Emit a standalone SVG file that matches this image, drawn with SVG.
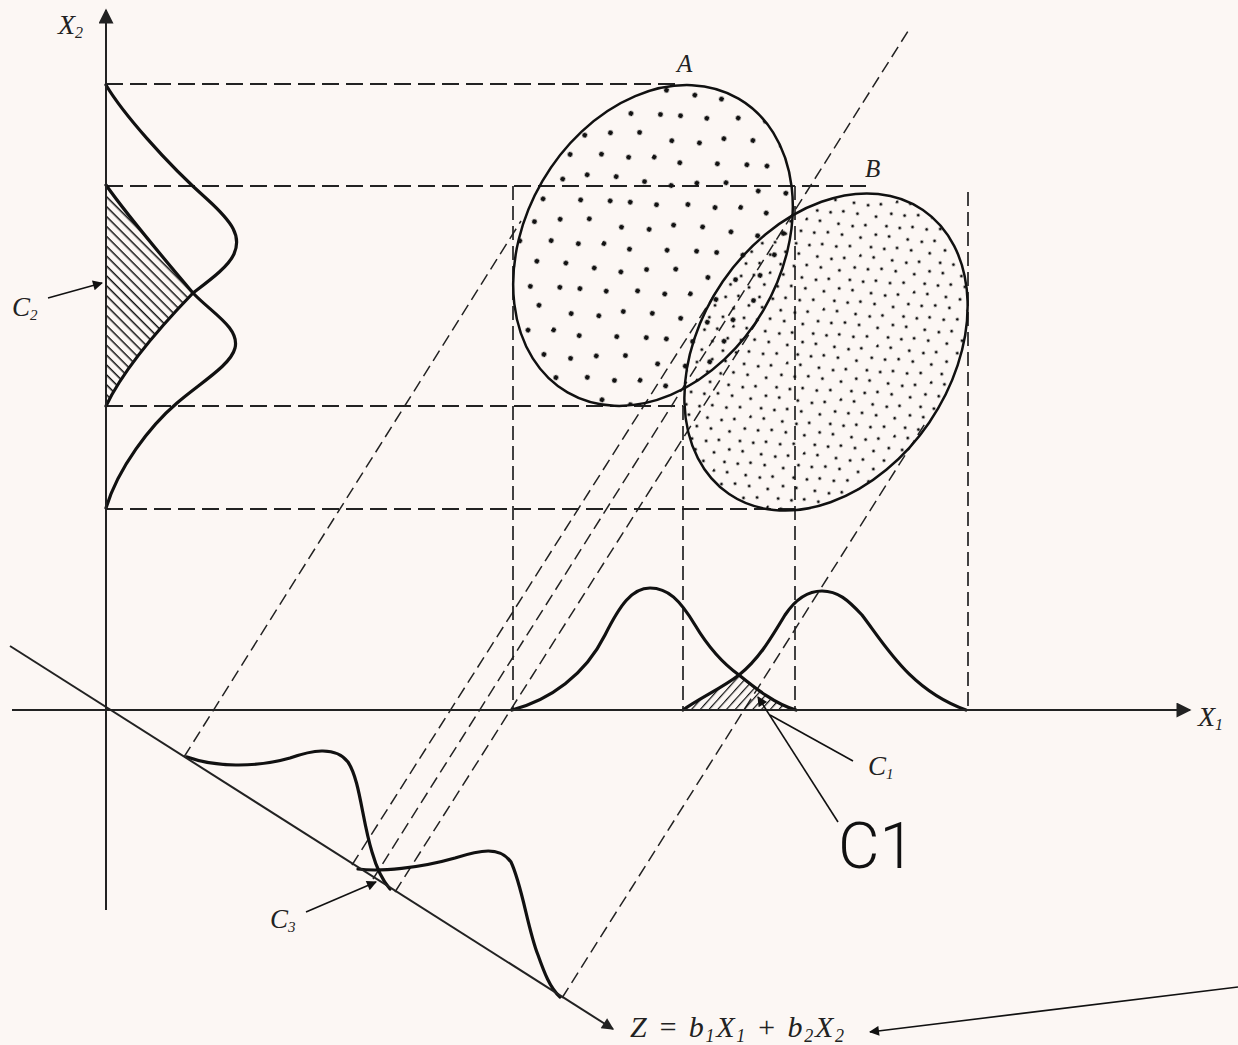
<svg xmlns="http://www.w3.org/2000/svg" width="1238" height="1045" viewBox="0 0 1238 1045">
<style>
.axis{stroke:#222;stroke-width:2;fill:none}
.dh{stroke:#222;stroke-width:2.2;stroke-dasharray:17 7;fill:none}
.dv{stroke:#222;stroke-width:1.7;stroke-dasharray:14 6;fill:none}
.dd{stroke:#222;stroke-width:1.5;stroke-dasharray:12 6;fill:none}
.curve{stroke:#111;stroke-width:3.2;fill:none;stroke-linejoin:round;stroke-linecap:round}
.ell{stroke:#111;stroke-width:2.5}
.lbl{font-family:"Liberation Serif","Times New Roman",serif;font-style:italic;fill:#222}
.ann{stroke:#111;stroke-width:1.6;fill:none}
</style>
<defs>
<marker id="ahBig" viewBox="0 0 10 10" refX="9" refY="5" markerWidth="24" markerHeight="15" markerUnits="userSpaceOnUse" orient="auto"><path d="M0,0 L10,5 L0,10 z" fill="#222"/></marker>
<marker id="ahMid" viewBox="0 0 10 10" refX="9" refY="5" markerWidth="20" markerHeight="12" markerUnits="userSpaceOnUse" orient="auto"><path d="M0,0 L10,5 L0,10 z" fill="#222"/></marker>
<marker id="ahSmall" viewBox="0 0 10 10" refX="9" refY="5" markerWidth="15" markerHeight="10" markerUnits="userSpaceOnUse" orient="auto"><path d="M0,0 L10,5 L0,10 z" fill="#111"/></marker>
<pattern id="dotsA" patternUnits="userSpaceOnUse" width="100" height="100">
<g fill="#111"><circle cx="4" cy="6" r="2.5"/><circle cx="30" cy="2" r="2.5"/><circle cx="53" cy="9" r="2.5"/><circle cx="79" cy="4" r="2.5"/><circle cx="14" cy="31" r="2.5"/><circle cx="38" cy="27" r="2.5"/><circle cx="65" cy="34" r="2.5"/><circle cx="90" cy="28" r="2.5"/><circle cx="6" cy="55" r="2.5"/><circle cx="29" cy="52" r="2.5"/><circle cx="56" cy="60" r="2.5"/><circle cx="81" cy="53" r="2.5"/><circle cx="17" cy="80" r="2.5"/><circle cx="44" cy="77" r="2.5"/><circle cx="70" cy="86" r="2.5"/><circle cx="94" cy="79" r="2.5"/></g>
</pattern>
<pattern id="dotsB" patternUnits="userSpaceOnUse" width="65" height="65">
<g fill="#111"><circle cx="2" cy="3" r="1.5"/><circle cx="15" cy="1" r="1.5"/><circle cx="28" cy="5" r="1.5"/><circle cx="41" cy="2" r="1.5"/><circle cx="54" cy="6" r="1.5"/><circle cx="8" cy="15" r="1.5"/><circle cx="21" cy="13" r="1.5"/><circle cx="34" cy="17" r="1.5"/><circle cx="47" cy="14" r="1.5"/><circle cx="60" cy="18" r="1.5"/><circle cx="3" cy="28" r="1.5"/><circle cx="16" cy="26" r="1.5"/><circle cx="29" cy="30" r="1.5"/><circle cx="42" cy="27" r="1.5"/><circle cx="55" cy="31" r="1.5"/><circle cx="9" cy="41" r="1.5"/><circle cx="22" cy="39" r="1.5"/><circle cx="35" cy="43" r="1.5"/><circle cx="48" cy="40" r="1.5"/><circle cx="61" cy="44" r="1.5"/><circle cx="4" cy="54" r="1.5"/><circle cx="17" cy="52" r="1.5"/><circle cx="30" cy="56" r="1.5"/><circle cx="43" cy="53" r="1.5"/><circle cx="56" cy="57" r="1.5"/></g>
</pattern>
<pattern id="hatchC2" patternUnits="userSpaceOnUse" width="7" height="7" patternTransform="rotate(45)"><rect x="0" y="0" width="7" height="1.5" fill="#111"/></pattern>
<pattern id="hatchC1" patternUnits="userSpaceOnUse" width="6.5" height="6.5" patternTransform="rotate(-48)"><rect x="0" y="0" width="6.5" height="1.2" fill="#111"/></pattern>
</defs>
<rect width="1238" height="1045" fill="#fcf7f4"/>

<g id="guides">
<path class="dh" d="M106,84 H682 M106,186 H866 M106,406 H683 M106,509 H795"/>
<path class="dv" d="M513,186 V710 M683,406 V710 M795,186 V710 M968,192 V710"/>
<path class="dd" d="M184,757 L521,221 M352,865 L718,289 M373,879 L910,28 M395,892 L760,317 M562,998 L926,422"/>
</g>

<g id="ellipse-A">
<ellipse cx="653" cy="245.5" rx="170" ry="128" transform="rotate(-59.8 653 245.5)" fill="url(#dotsA)"/>
</g>
<g id="ellipse-B">
<ellipse cx="826" cy="352" rx="172" ry="125" transform="rotate(-55.7 826 352)" fill="url(#dotsB)"/>
</g>
<g id="ellipse-outlines" fill="none">
<ellipse class="ell" cx="653" cy="245.5" rx="170" ry="128" transform="rotate(-59.8 653 245.5)"/>
<ellipse class="ell" cx="826" cy="352" rx="172" ry="125" transform="rotate(-55.7 826 352)"/>
</g>

<g id="hatches">
<path d="M106,185 C125,212 165,260 193,293 C165,322 125,366 106,406 Z" fill="url(#hatchC2)"/>
<path d="M683,710 C700,698 722,688 739,675 C755,688 775,704 796,710 Z" fill="url(#hatchC1)"/>
</g>

<g id="x2-distributions">
<path class="curve" d="M106,85 C122,112 165,162 208,200 C232,222 242,236 234,254 C228,267 210,280 193,293 C165,322 125,366 106,406"/>
<path class="curve" d="M106,185 C125,212 165,260 193,293 C212,313 240,328 235,348 C231,365 200,383 177,403 C150,426 118,468 106,508"/>
</g>

<g id="x1-distributions">
<path class="curve" d="M512,710 C550,700 585,675 605,635 C620,605 632,588 650,588 C668,588 680,600 695,625 C710,650 725,665 739,675 C755,688 775,704 796,710"/>
<path class="curve" d="M683,710 C700,698 722,688 739,675 C758,660 770,640 785,615 C795,600 808,591 822,591 C838,591 848,600 862,615 C885,645 910,690 966,710"/>
</g>

<g id="z-distributions">
<path class="curve" d="M187,757 C215,767 255,768 290,758 C310,751 335,745 348,762 C360,780 362,820 372,852 C376,866 382,880 390,889"/>
<path class="curve" d="M358,869 C380,872 420,868 455,858 C480,850 500,846 511,862 C522,885 528,930 538,955 C544,972 550,988 560,997"/>
</g>

<g id="axes">
<line class="axis" x1="106" y1="910" x2="106" y2="10" marker-end="url(#ahBig)"/>
<line class="axis" x1="12" y1="710" x2="1190" y2="710" marker-end="url(#ahBig)"/>
<line class="axis" x1="10" y1="646" x2="613" y2="1029" stroke-width="1.7" marker-end="url(#ahMid)"/>
</g>

<g id="connectors">
<line class="ann" x1="48" y1="298" x2="102" y2="283" marker-end="url(#ahSmall)"/>
<line class="ann" x1="306" y1="912" x2="376" y2="882" marker-end="url(#ahSmall)"/>
<line class="ann" x1="853" y1="761" x2="770" y2="715" stroke-width="2"/>
<line class="ann" x1="838" y1="822" x2="758" y2="697" stroke-width="1.5" marker-end="url(#ahSmall)"/>
<line class="ann" x1="1238" y1="987" x2="870" y2="1032" stroke-width="1.6" marker-end="url(#ahSmall)"/>
</g>

<g id="labels">
<text class="lbl" x="58" y="34" font-size="28">X<tspan font-size="16" dy="4">2</tspan></text>
<text class="lbl" x="1198" y="726" font-size="28">X<tspan font-size="16" dy="4">1</tspan></text>
<text class="lbl" x="677" y="72" font-size="25">A</text>
<text class="lbl" x="865" y="177" font-size="25">B</text>
<text class="lbl" x="12" y="316" font-size="27">C<tspan font-size="15" dy="4">2</tspan></text>
<text class="lbl" x="270" y="928" font-size="27">C<tspan font-size="15" dy="4">3</tspan></text>
<text class="lbl" x="868" y="775" font-size="27">C<tspan font-size="15" dy="4">1</tspan></text>
<text class="lbl" x="630" y="1037" font-size="30" textLength="214" lengthAdjust="spacing">Z = b<tspan font-size="18" dy="5">1</tspan><tspan dy="-5">X</tspan><tspan font-size="18" dy="5">1</tspan><tspan dy="-5"> + b</tspan><tspan font-size="18" dy="5">2</tspan><tspan dy="-5">X</tspan><tspan font-size="18" dy="5">2</tspan></text>
<text x="838" y="868" font-family="Roboto, 'Liberation Sans', sans-serif" font-weight="300" font-size="64" fill="#111">C1</text>
</g>
</svg>
